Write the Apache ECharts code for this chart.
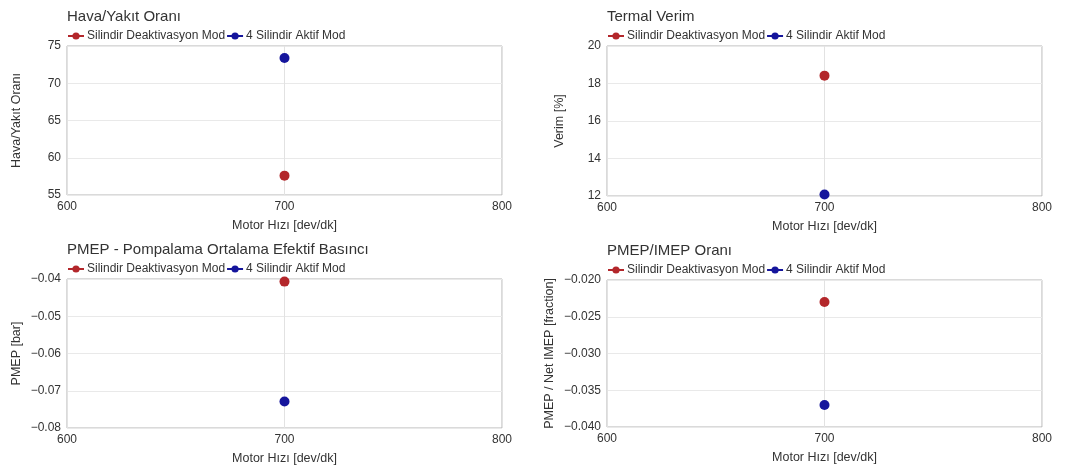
<!DOCTYPE html>
<html>
<head>
<meta charset="utf-8">
<script src="https://cdn.jsdelivr.net/npm/echarts@6/dist/echarts.min.js"></script>
<style>
  html, body { margin: 0; padding: 0; background: #fff; }
  #chart { width: 1084px; height: 467px; }
</style>
</head>
<body>
<div id="chart"></div>
<script>
// Engine speed (x) shared by all panels
const speeds = [700];
const seriesNames = ['Silindir Deaktivasyon Mod', '4 Silindir Aktif Mod'];

// Panel titles and axis names
const panelTitles = ['Hava/Yakıt Oranı', 'Termal Verim', 'PMEP - Pompalama Ortalama Efektif Basıncı', 'PMEP/IMEP Oranı'];
const yNames = ['Hava/Yakıt Oranı', 'Verim [%]', 'PMEP [bar]', 'PMEP / Net IMEP [fraction]'];
const xName = 'Motor Hızı [dev/dk]';

// Measured values: [deactivation, all four active]
const airFuel = [57.6, 73.4];
const thermalEff = [18.42, 12.08];
const pmep = [-0.0407, -0.0729];
const pmepImep = [-0.0230, -0.0370];

// Axis ranges and tick spacing
const xTicks = { min: 600, max: 800, interval: 100 };
const yRanges = [
  { min: 55, max: 75, interval: 5, decimals: 0 },
  { min: 12, max: 20, interval: 2, decimals: 0 },
  { min: -0.08, max: -0.04, interval: 0.01, decimals: 2 },
  { min: -0.04, max: -0.02, interval: 0.005, decimals: 3 }
];

const panelValues = [airFuel, thermalEff, pmep, pmepImep];
const colors = ['#b3272b', '#15159c'];

const gridPos = [
  { left: 67, top: 46, width: 435, height: 149 },
  { left: 607, top: 46, width: 435, height: 150 },
  { left: 67, top: 279, width: 435, height: 149 },
  { left: 607, top: 280, width: 435, height: 147 }
];
const nameGaps = [44, 41, 44, 51];
const FONT = 'Liberation Sans, Arial, sans-serif';

const fmt = (v, d) => v.toFixed(d).replace('-', '\u2212');

const grids = [], xAxes = [], yAxes = [], series = [], titles = [], legends = [];

gridPos.forEach((g, i) => {
  grids.push(Object.assign({
    show: true, borderColor: '#b4b4b4', borderWidth: 1, backgroundColor: '#fff'
  }, g));

  titles.push({
    text: panelTitles[i],
    left: g.left, top: g.top - 37, padding: 0,
    textStyle: { fontFamily: FONT, fontSize: 15, fontWeight: 'normal', color: '#333' }
  });

  legends.push({
    data: seriesNames.map(n => n + '\u200b'.repeat(i)),
    left: g.left, top: g.top - 16,
    itemWidth: 16, itemHeight: 9, itemGap: 1,
    padding: 0,
    textStyle: { fontFamily: FONT, fontSize: 12, color: '#333', padding: [0, 0, 0, -2] }
  });

  xAxes.push({
    type: 'value', gridIndex: i,
    min: xTicks.min, max: xTicks.max, interval: xTicks.interval,
    name: xName, nameLocation: 'middle', nameGap: 24,
    nameTextStyle: { fontFamily: FONT, fontSize: 12.5, color: '#333' },
    axisLine: { show: false },
    axisTick: { show: false },
    axisLabel: { fontFamily: FONT, fontSize: 12, color: '#333', margin: 6 },
    splitLine: { show: true, lineStyle: { color: '#e2e2e2', width: 1 } }
  });

  const r = yRanges[i];
  yAxes.push({
    type: 'value', gridIndex: i,
    min: r.min, max: r.max, interval: r.interval,
    name: yNames[i], nameLocation: 'middle', nameGap: nameGaps[i],
    nameTextStyle: { fontFamily: FONT, fontSize: 12.5, color: '#333' },
    axisLine: { show: false },
    axisTick: { show: false },
    axisLabel: { fontFamily: FONT, fontSize: 12, color: '#333', margin: 6,
      formatter: v => fmt(v, r.decimals) },
    splitLine: { show: true, lineStyle: { color: '#e9e9e9', width: 1 } }
  });

  seriesNames.forEach((n, k) => {
    series.push({
      type: 'line',
      name: n + '\u200b'.repeat(i),
      xAxisIndex: i, yAxisIndex: i,
      data: speeds.map((s, j) => [s, panelValues[i][k]]),
      symbol: 'circle', symbolSize: 10,
      itemStyle: { color: colors[k] },
      lineStyle: { color: colors[k], width: 2 },
      clip: true,
      z: 3
    });
  });
});

const chart = echarts.init(document.getElementById('chart'), null, { renderer: 'canvas' });
chart.setOption({
  animation: false,
  backgroundColor: '#fff',
  title: titles,
  legend: legends,
  grid: grids,
  xAxis: xAxes,
  yAxis: yAxes,
  series: series
});
</script>
</body>
</html>
